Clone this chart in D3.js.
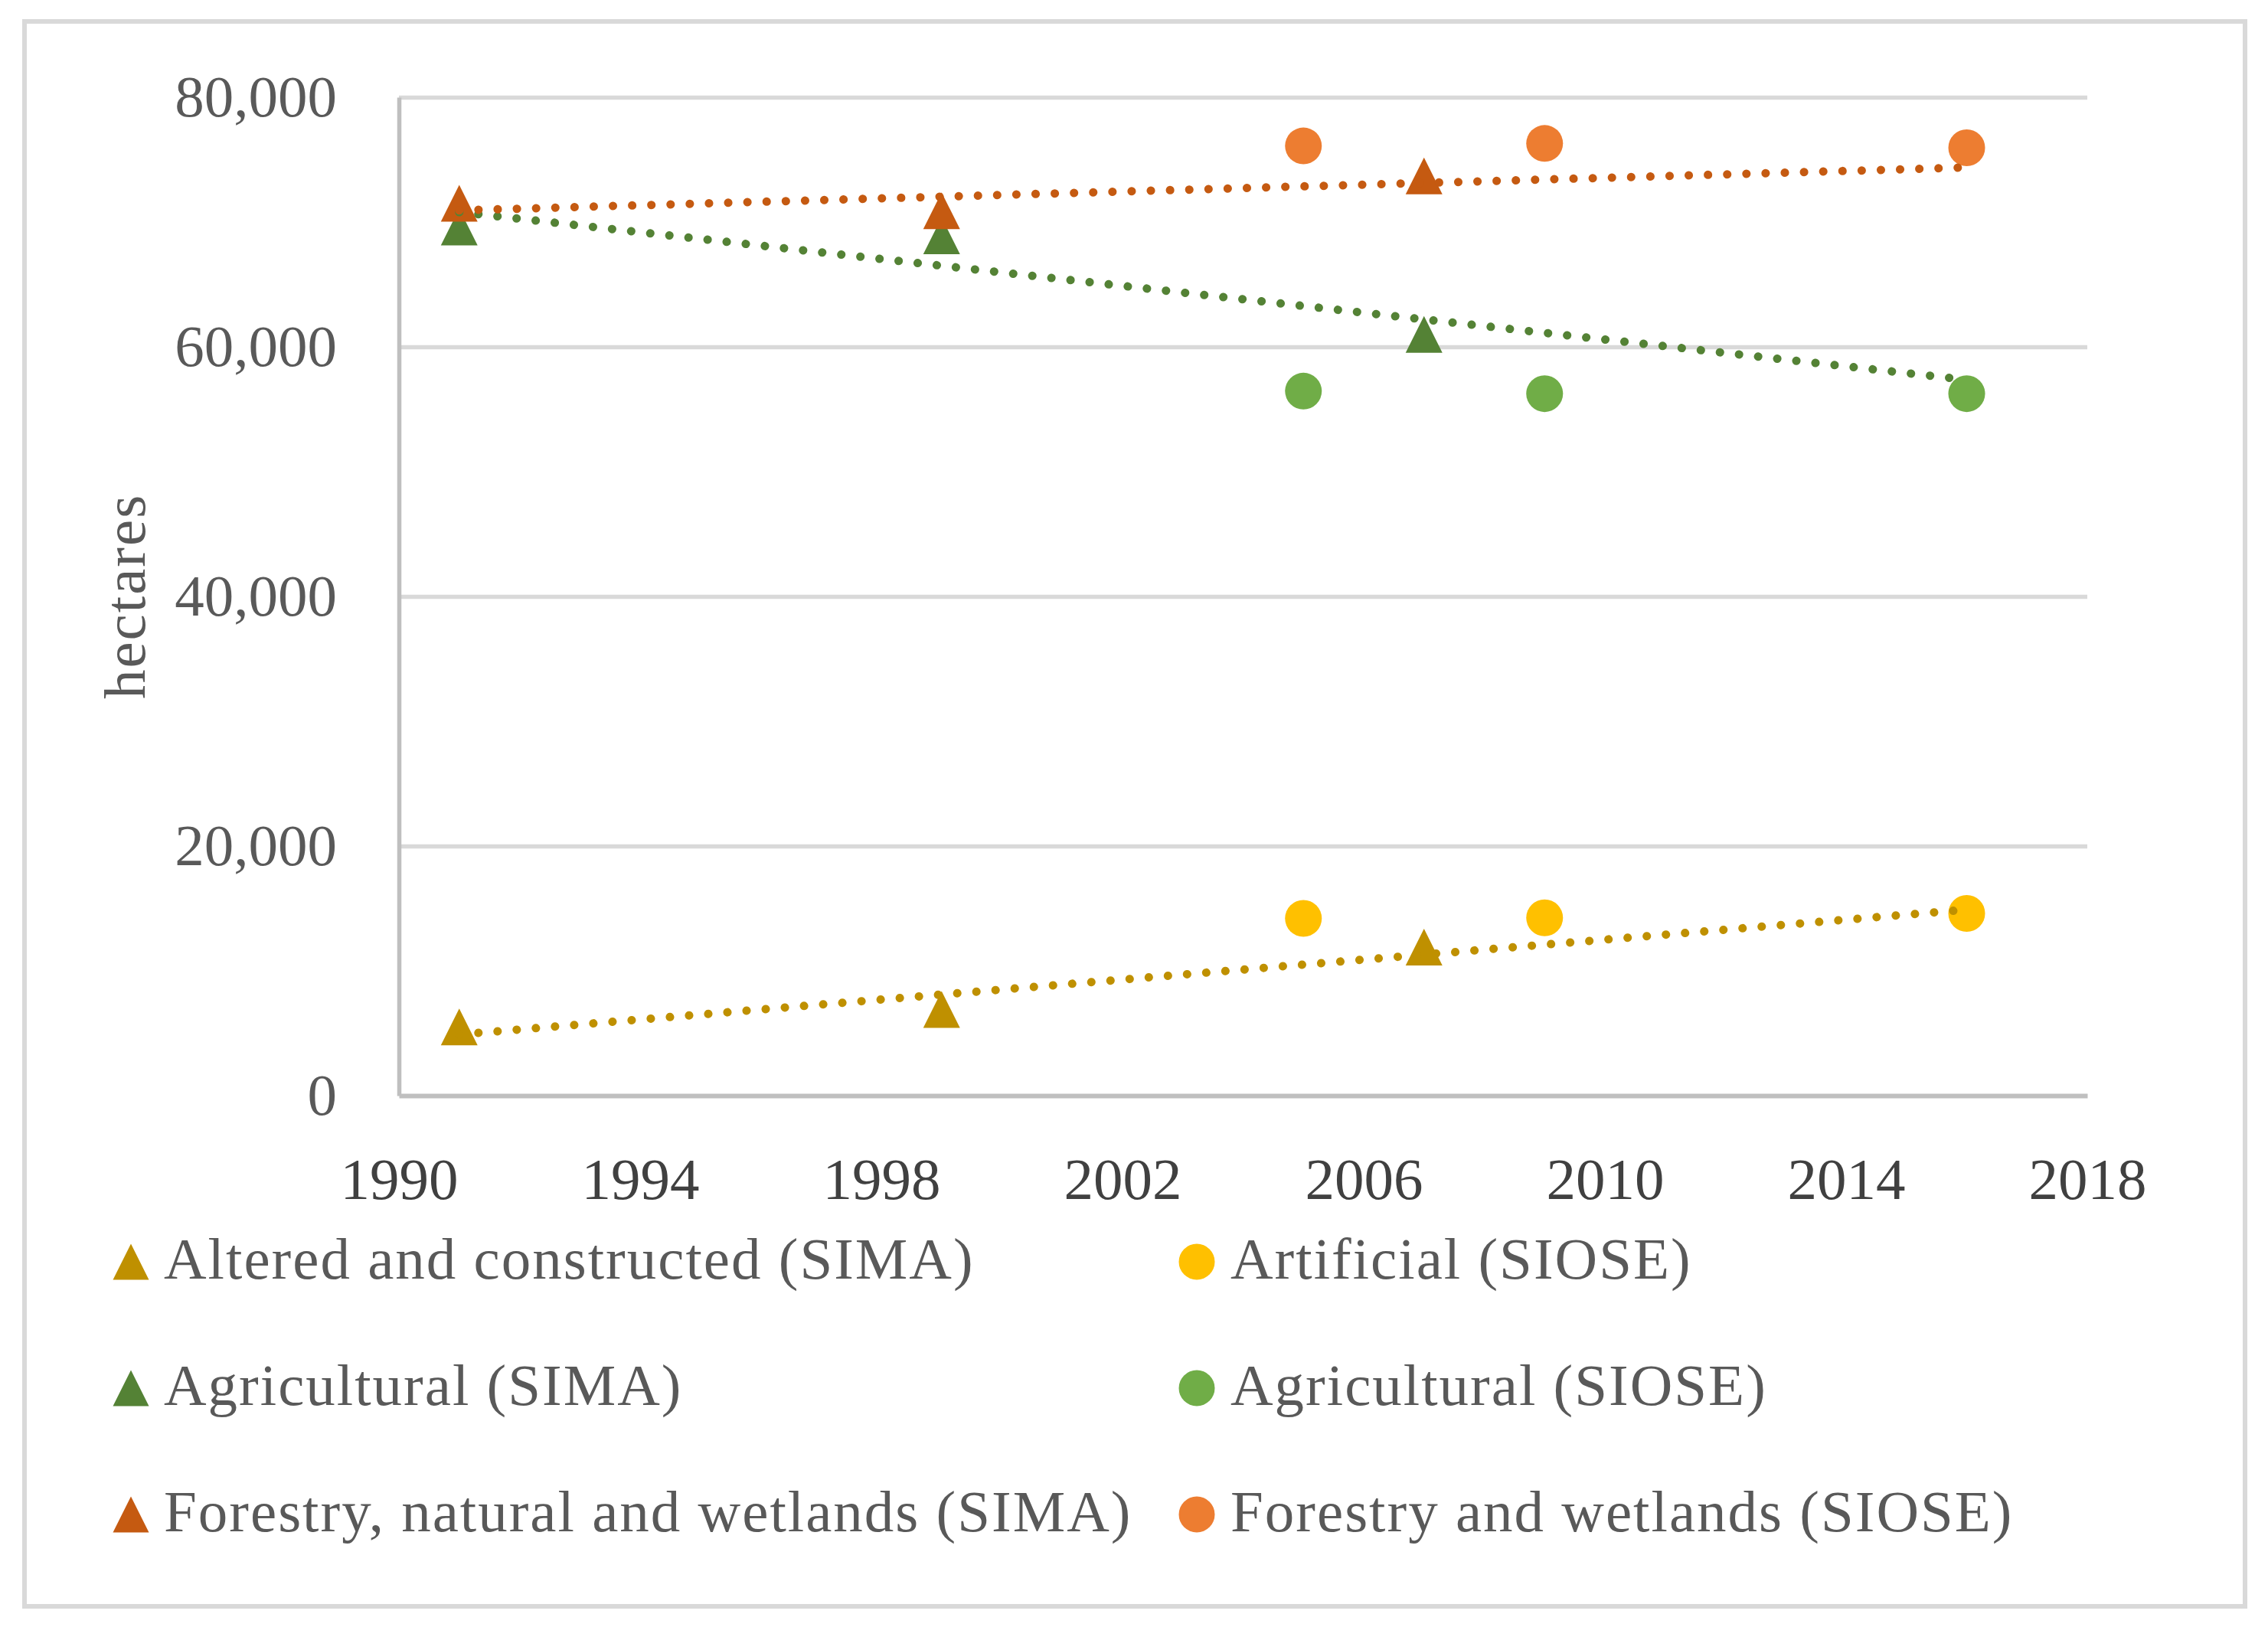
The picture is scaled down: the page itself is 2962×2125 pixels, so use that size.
<!DOCTYPE html>
<html lang="en">
<head>
<meta charset="utf-8">
<title>Land use, hectares</title>
<script src="https://d3js.org/d3.v7.min.js"></script>
<style>
  body { margin: 0; background: #fff; }
  svg { display: block; font-family: "Liberation Serif", "DejaVu Serif", serif; }
  .axis text { font-size: 77px; font-family: "Liberation Serif", "DejaVu Serif", serif; }
  .axis--y text { fill: #595959; }
  .axis--x text { fill: #404040; }
  .grid line { stroke: #d9d9d9; stroke-width: 5.5px; }
  .grid path { display: none; }
  .legend text { font-size: 77px; fill: #595959; letter-spacing: 2px; }
</style>
</head>
<body>
<script>
// data
var sima_years = [1991, 1999, 2007];
var siose_years = [2005, 2009, 2016];

var altered_sima = [5500, 6900, 11900];
var artificial_siose = [14200, 14250, 14600];
var agricultural_sima = [69600, 68900, 61000];
var agricultural_siose = [56450, 56250, 56250];
var forestry_sima = [71500, 70900, 73700];
var forestry_siose = [76100, 76300, 75950];

var trend_end = 2016;

var x_ticks = [1990, 1994, 1998, 2002, 2006, 2010, 2014, 2018];
var y_ticks = [0, 20000, 40000, 60000, 80000];

var series = [
  {name: "Altered and constructed (SIMA)", years: sima_years, values: altered_sima, shape: "triangle", color: "#bf9000", trend: true},
  {name: "Artificial (SIOSE)", years: siose_years, values: artificial_siose, shape: "circle", color: "#ffc000"},
  {name: "Agricultural (SIMA)", years: sima_years, values: agricultural_sima, shape: "triangle", color: "#548235", trend: true},
  {name: "Agricultural (SIOSE)", years: siose_years, values: agricultural_siose, shape: "circle", color: "#70ad47"},
  {name: "Forestry, natural and wetlands (SIMA)", years: sima_years, values: forestry_sima, shape: "triangle", color: "#c55a11", trend: true},
  {name: "Forestry and wetlands (SIOSE)", years: siose_years, values: forestry_siose, shape: "circle", color: "#ed7d31"}
];

var W = 2962, H = 2125;
var plot = {left: 521, right: 2726, top: 127, bottom: 1431};

var svg = d3.select("body").append("svg")
    .attr("width", W)
    .attr("height", H);

// outer frame
svg.append("rect")
    .attr("x", 32).attr("y", 28)
    .attr("width", 2900).attr("height", 2070)
    .attr("fill", "#fff")
    .attr("stroke", "#d9d9d9")
    .attr("stroke-width", 6);

var x = d3.scaleLinear().domain([1990, 2018]).range([plot.left, plot.right]);
var y = d3.scaleLinear().domain([0, 80000]).range([plot.bottom, plot.top]);

// gridlines
svg.append("g")
    .attr("class", "grid")
    .attr("transform", "translate(" + plot.left + ",0)")
    .call(d3.axisLeft(y).tickValues(y_ticks.slice(1)).tickSize(-(plot.right - plot.left)).tickFormat(""));

// y axis
var yAxis = svg.append("g")
    .attr("class", "axis axis--y")
    .attr("transform", "translate(" + plot.left + ",0)")
    .call(d3.axisLeft(y).tickValues(y_ticks).tickSize(0).tickSizeOuter(0).tickPadding(81).tickFormat(d3.format(",")));
yAxis.select(".domain").attr("stroke", "#bfbfbf").attr("stroke-width", 5.5);
yAxis.selectAll("text").attr("dy", "0.32em");

// x axis
var xAxis = svg.append("g")
    .attr("class", "axis axis--x")
    .attr("transform", "translate(0," + plot.bottom + ")")
    .call(d3.axisBottom(x).tickValues(x_ticks).tickSize(0).tickSizeOuter(0).tickPadding(80).tickFormat(d3.format("d")));
xAxis.select(".domain").attr("stroke", "#bfbfbf").attr("stroke-width", 6);

// y title
svg.append("text")
    .attr("transform", "translate(189," + ((plot.top + plot.bottom) / 2) + ") rotate(-90)")
    .attr("text-anchor", "middle")
    .attr("font-size", 77)
    .attr("letter-spacing", 2)
    .attr("fill", "#595959")
    .text("hectares");

var markerSize = 48;

function drawMarker(g, shape, color, cx, cy, s) {
  if (shape === "circle") {
    g.append("circle").attr("cx", cx).attr("cy", cy).attr("r", s / 2).attr("fill", color);
  } else {
    g.append("path")
      .attr("d", "M" + cx + "," + (cy - s / 2) + "L" + (cx + s / 2) + "," + (cy + s / 2) + "L" + (cx - s / 2) + "," + (cy + s / 2) + "Z")
      .attr("fill", color);
  }
}

// markers
var marks = svg.append("g").attr("class", "marks");
series.forEach(function(s) {
  var g = marks.append("g");
  s.years.forEach(function(yr, i) {
    drawMarker(g, s.shape, s.color, x(yr), y(s.values[i]), markerSize);
  });
});

// linear trendlines (least squares on each SIMA series, forecast to trend_end)
var trendLine = d3.line().x(function(d) { return x(d[0]); }).y(function(d) { return y(d[1]); });
series.filter(function(s) { return s.trend; }).forEach(function(s) {
  var mx = d3.mean(s.years), my = d3.mean(s.values);
  var sxy = d3.sum(s.years, function(yr, i) { return (yr - mx) * (s.values[i] - my); });
  var sxx = d3.sum(s.years, function(yr) { return (yr - mx) * (yr - mx); });
  var slope = sxy / sxx, icpt = my - slope * mx;
  var x0 = d3.min(s.years);
  svg.append("path")
    .attr("d", trendLine([[x0, icpt + slope * x0], [trend_end, icpt + slope * trend_end]]))
    .attr("fill", "none")
    .attr("stroke", s.color)
    .attr("stroke-width", 11)
    .attr("stroke-linecap", "round")
    .attr("stroke-dasharray", "0.1 25");
});

// legend
var legend = svg.append("g").attr("class", "legend");
var rowY = [1670, 1835, 2000];
var colMarker = [171, 1563], colText = [214, 1607];
series.forEach(function(s, i) {
  var col = i % 2, row = Math.floor(i / 2);
  var g = legend.append("g");
  drawMarker(g, s.shape, s.color, colMarker[col], rowY[row] - 22, 47);
  g.append("text")
    .attr("x", colText[col])
    .attr("y", rowY[row])
    .text(s.name);
});
</script>
</body>
</html>
